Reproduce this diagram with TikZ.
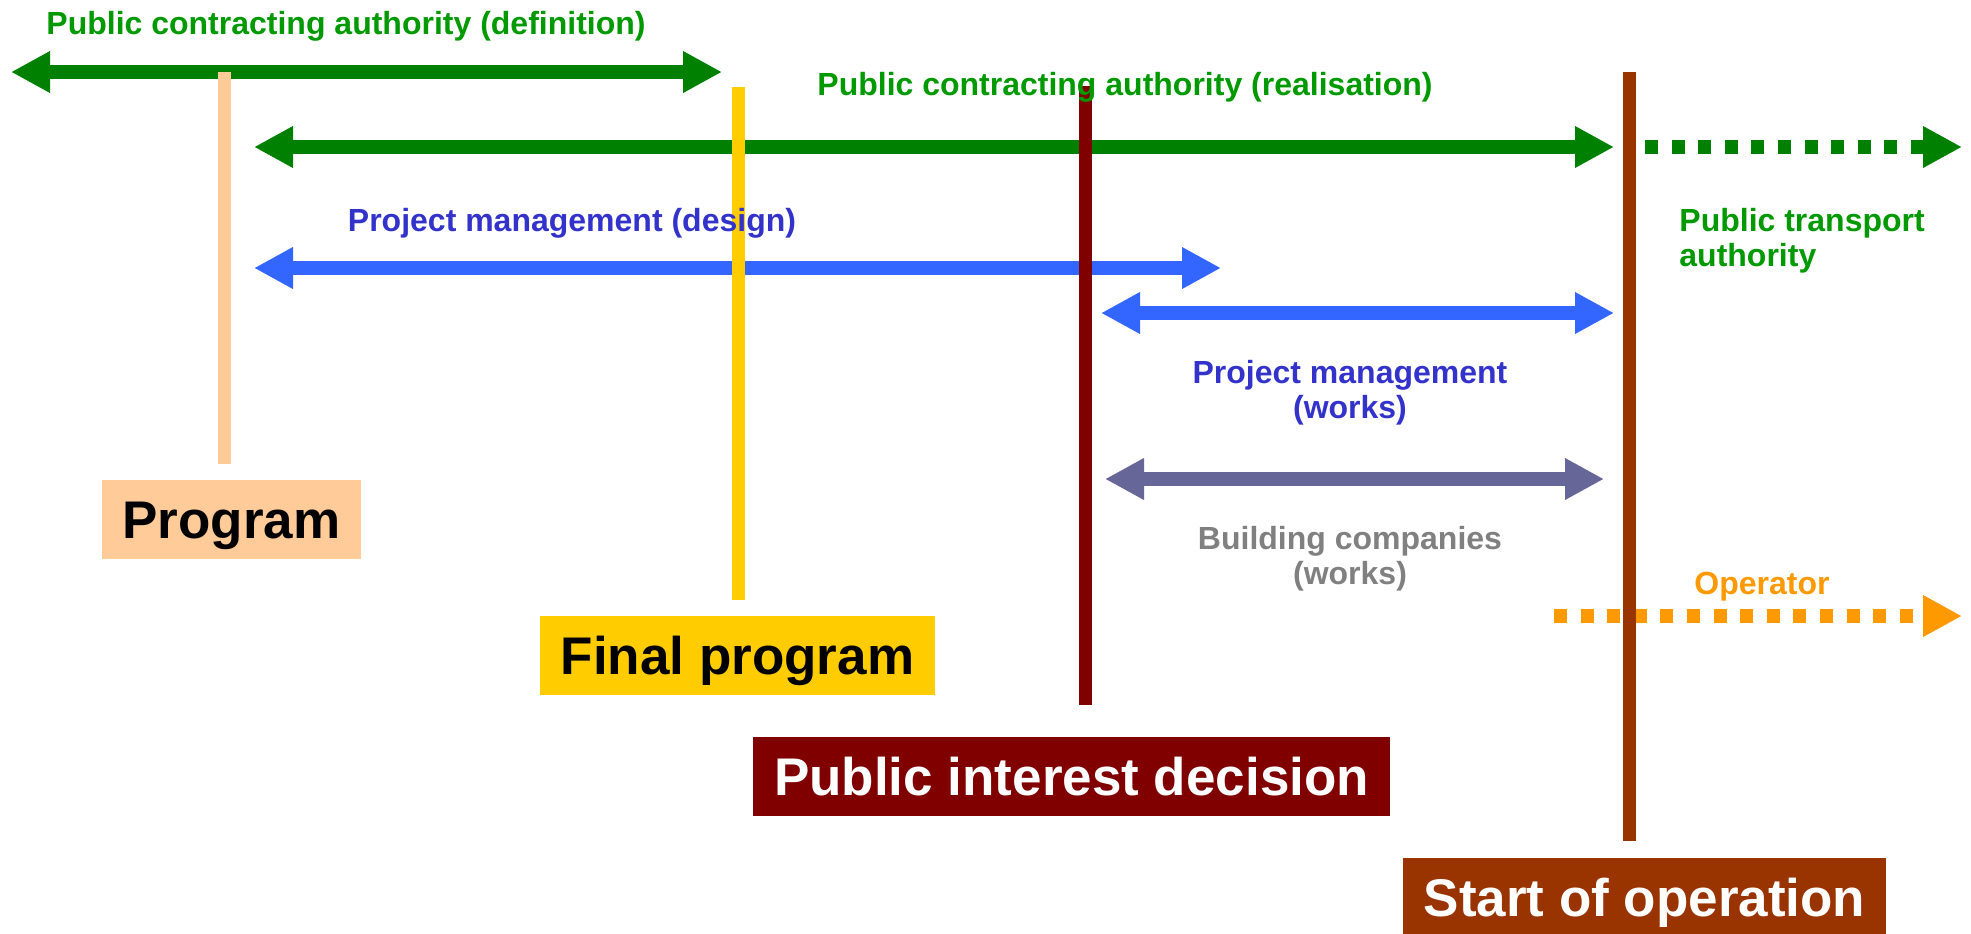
\documentclass[tikz,border=0pt]{standalone}
\usepackage{fontspec}
\setmainfont{Liberation Sans}
\usetikzlibrary{arrows.meta}

\definecolor{agreen}{HTML}{008000}
\definecolor{tgreen}{HTML}{009900}
\definecolor{ablue}{HTML}{3366FF}
\definecolor{tblue}{HTML}{3333CC}
\definecolor{aviolet}{HTML}{666699}
\definecolor{tgrey}{HTML}{808080}
\definecolor{orange}{HTML}{FF9900}
\definecolor{peach}{HTML}{FFCC99}
\definecolor{gold}{HTML}{FFCC00}
\definecolor{darkred}{HTML}{800000}
\definecolor{rust}{HTML}{993300}

\begin{document}
\begin{tikzpicture}[x=0.5pt,y=-0.5pt,
  tip/.tip={Triangle[length=19.5pt,width=19.5pt]},
  span/.style={line width=7pt,tip-tip},
  goon/.style={line width=7pt,dash pattern=on 6.5pt off 6.8pt,-tip},
  mark line/.style={line width=6.5pt},
  lab/.style={font=\fontsize{16}{17.5}\selectfont\bfseries,align=center,inner sep=0pt},
  box/.style={font=\fontsize{26.5}{30}\selectfont\bfseries,minimum height=39.5pt,
    text height=19.3pt,text depth=0pt,inner sep=0pt}]
\useasboundingbox (0,0) rectangle (1971,933);

% ends of the arrows
\coordinate (d1) at (11,72);    \coordinate (d2) at (722,72);
\coordinate (r1) at (254,147);  \coordinate (r2) at (1614,147);
\coordinate (t1) at (1645,147); \coordinate (t2) at (1962,147);
\coordinate (p1) at (254,268);  \coordinate (p2) at (1221,268);
\coordinate (w1) at (1101,313); \coordinate (w2) at (1614,313);
\coordinate (b1) at (1105,479); \coordinate (b2) at (1604,479);
\coordinate (o1) at (1554,616); \coordinate (o2) at (1962,616);

% ends of the milestone lines
\coordinate (m1) at (224,72);   \coordinate (n1) at (224,464);
\coordinate (m2) at (738,87);   \coordinate (n2) at (738,600);
\coordinate (m3) at (1085,86);  \coordinate (n3) at (1085,705);
\coordinate (m4) at (1629,72);  \coordinate (n4) at (1629,841);

\draw[span,agreen] (d1) -- (d2);
\draw[span,agreen] (r1) -- (r2);
\draw[goon,agreen] (t1) -- (t2);
\draw[span,ablue] (p1) -- (p2);
\draw[span,ablue] (w1) -- (w2);
\draw[span,aviolet] (b1) -- (b2);
\draw[goon,orange] (o1) -- (o2);

\draw[mark line,peach] (m1) -- (n1);
\draw[mark line,gold] (m2) -- (n2);
\draw[mark line,darkred] (m3) -- (n3);
\draw[mark line,rust] (m4) -- (n4);

\node[lab,text=tgreen] (def) at (346,26) {Public contracting authority (definition)};
\node[lab,text=tgreen] (real) at (1125,87) {Public contracting authority (realisation)};
\node[lab,text=tgreen,anchor=west,align=left] (pta) at (1679,241) {Public transport\\authority};
\node[lab,text=tblue] (pmd) at (572,223) {Project management (design)};
\node[lab,text=tblue] (pmw) at (1350,393) {Project management\\(works)};
\node[lab,text=tgrey] (bc) at (1350,559) {Building companies\\(works)};
\node[lab,text=orange] (op) at (1762,587) {Operator};

\node[box,fill=peach,minimum width=129.5pt] (prog) at (231.5,519.5) {Program};
\node[box,fill=gold,minimum width=197.5pt] (final) at (737.5,655.5) {Final program};
\node[box,fill=darkred,text=white,minimum width=318.5pt] (pid) at (1071.5,776.5) {Public interest decision};
\node[box,fill=rust,text=white,minimum width=241.5pt] (start) at (1644.5,897.5) {Start of operation};
\end{tikzpicture}
\end{document}
